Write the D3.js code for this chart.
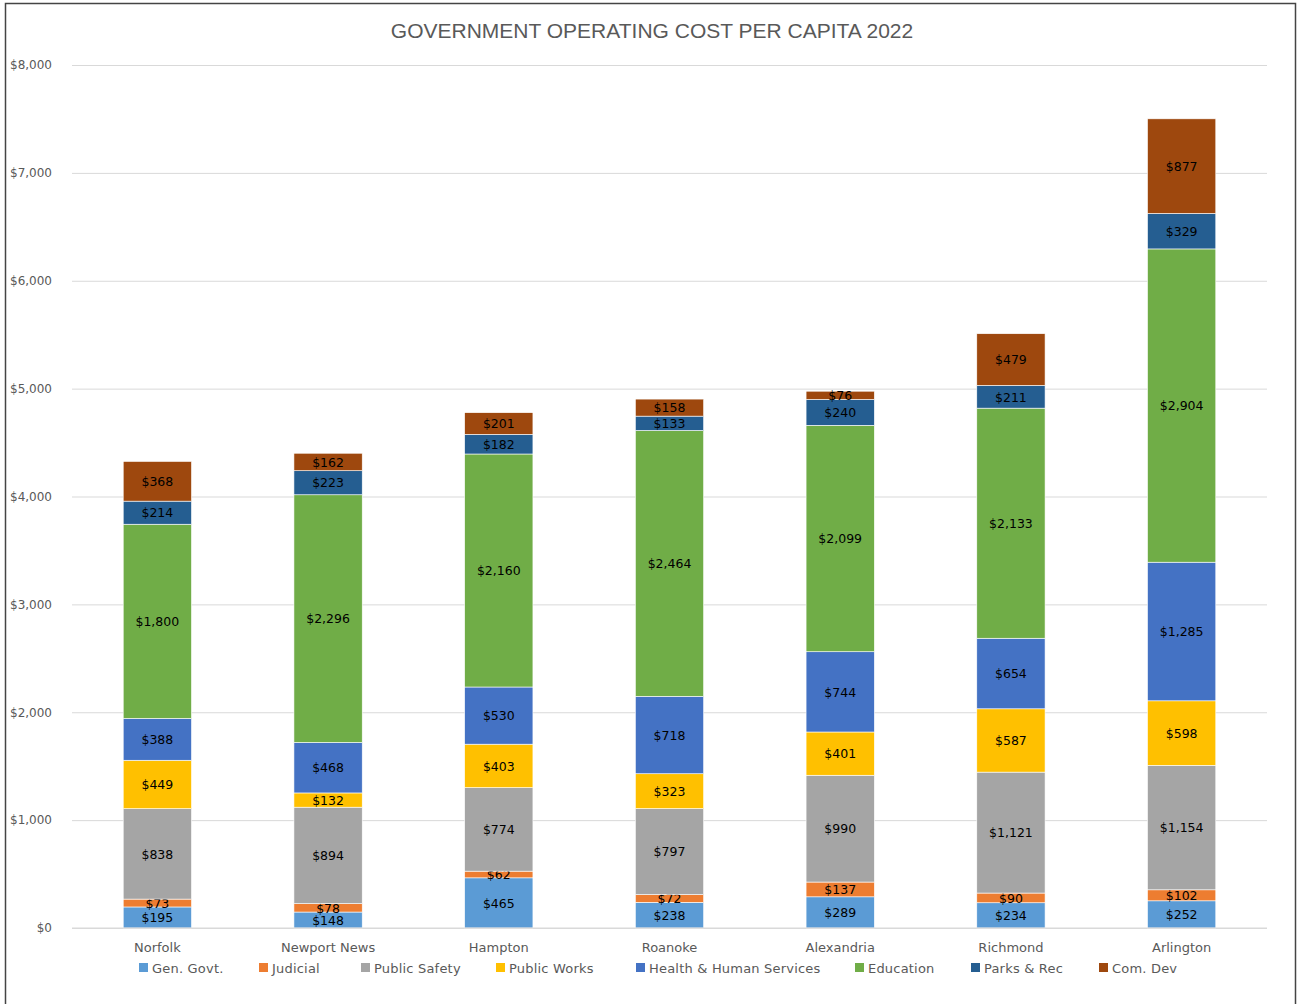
<!DOCTYPE html>
<html>
<head>
<meta charset="utf-8">
<script src="https://cdn.jsdelivr.net/npm/d3@7"></script>
<style>
  body { margin: 0; background: #fff; }
  text { font-family: "DejaVu Sans", sans-serif; }
</style>
</head>
<body>
<svg id="chart" width="1297" height="1004"></svg>
<script>
// данные
const cities = ['Norfolk', 'Newport News', 'Hampton', 'Roanoke', 'Alexandria', 'Richmond', 'Arlington'];
const seriesNames = ['Gen. Govt.', 'Judicial', 'Public Safety', 'Public Works', 'Health & Human Services', 'Education', 'Parks & Rec', 'Com. Dev'];
const genGovt      = [195, 148, 465, 238, 289, 234, 252];
const judicial     = [73, 78, 62, 72, 137, 90, 102];
const publicSafety = [838, 894, 774, 797, 990, 1121, 1154];
const publicWorks  = [449, 132, 403, 323, 401, 587, 598];
const health       = [388, 468, 530, 718, 744, 654, 1285];
const education    = [1800, 2296, 2160, 2464, 2099, 2133, 2904];
const parksRec     = [214, 223, 182, 133, 240, 211, 329];
const comDev       = [368, 162, 201, 158, 76, 479, 877];
const yTicks = [0, 1000, 2000, 3000, 4000, 5000, 6000, 7000, 8000];

const seriesValues = [genGovt, judicial, publicSafety, publicWorks, health, education, parksRec, comDev];
const colors = ['#5B9BD5', '#ED7D31', '#A5A5A5', '#FFC000', '#4472C4', '#70AD47', '#255E91', '#9E480E'];

// таблица для d3.stack
const table = cities.map((c, i) => {
  const row = { city: c };
  seriesNames.forEach((s, j) => { row[s] = seriesValues[j][i]; });
  return row;
});

const svg = d3.select('#chart');

// рамка
svg.append('path')
  .attr('d', 'M5.5,1004 L5.5,3.5 L1295.5,3.5 L1295.5,1004')
  .attr('fill', 'none')
  .attr('stroke', '#444')
  .attr('stroke-width', 1.5);

const margin = { top: 65, left: 72, right: 30, bottom: 76 };
const width = 1297 - margin.left - margin.right;
const height = 1004 - margin.top - margin.bottom;

const g = svg.append('g').attr('transform', `translate(${margin.left},${margin.top})`);

const x = d3.scaleBand()
  .domain(cities)
  .range([0, width])
  .paddingInner(0.6)
  .paddingOuter(0.3);

const y = d3.scaleLinear()
  .domain([0, 8000])
  .range([height, 0]);

const fmt = d3.format('$,.0f');

// сетка и подписи оси Y
const yAxis = g.append('g')
  .call(d3.axisLeft(y).tickValues(yTicks).tickSize(-width).tickFormat(d => fmt(d)).tickPadding(20));
yAxis.select('.domain').remove();
yAxis.selectAll('line').attr('stroke', '#d9d9d9').attr('stroke-width', 1);
yAxis.selectAll('text')
  .attr('fill', '#595959')
  .style('font-size', '12px')
  .style('font-family', '"DejaVu Sans", sans-serif');

// ось X
const xAxis = g.append('g')
  .attr('transform', `translate(0,${height})`)
  .call(d3.axisBottom(x).tickSize(0).tickPadding(15));
xAxis.select('.domain').remove();
xAxis.selectAll('text')
  .attr('fill', '#595959')
  .style('font-size', '13px')
  .style('font-family', '"DejaVu Sans", sans-serif');

// столбцы
const stacked = d3.stack().keys(seriesNames)(table);

const layers = g.selectAll('.layer')
  .data(stacked)
  .enter().append('g')
  .attr('class', 'layer')
  .attr('fill', (d, i) => colors[i]);

layers.selectAll('rect')
  .data(d => d)
  .enter().append('rect')
  .attr('x', d => x(d.data.city))
  .attr('width', x.bandwidth())
  .attr('y', d => y(d[1]))
  .attr('height', d => y(d[0]) - y(d[1]))
  .attr('stroke', '#fff')
  .attr('stroke-width', 0.6);

// подписи значений
layers.selectAll('.value-label')
  .data(d => d)
  .enter().append('text')
  .attr('class', 'value-label')
  .attr('x', d => x(d.data.city) + x.bandwidth() / 2)
  .attr('y', d => (y(d[0]) + y(d[1])) / 2)
  .attr('dy', '0.38em')
  .attr('text-anchor', 'middle')
  .attr('fill', '#000')
  .style('font-size', '12.5px')
  .text(d => fmt(d[1] - d[0]));

// линия нуля
g.append('line')
  .attr('x1', 0).attr('x2', width)
  .attr('y1', y(0)).attr('y2', y(0))
  .attr('stroke', '#d9d9d9');

// заголовок
svg.append('text')
  .attr('x', 652)
  .attr('y', 38)
  .attr('text-anchor', 'middle')
  .attr('fill', '#595959')
  .style('font-family', '"Liberation Sans", Arial, sans-serif')
  .style('font-size', '21px')
  .text('GOVERNMENT OPERATING COST PER CAPITA 2022');

// легенда
const legendX = [139, 259, 361, 496, 636, 855, 971, 1099];
const legend = svg.append('g');
seriesNames.forEach((s, i) => {
  const item = legend.append('g').attr('transform', `translate(${legendX[i]},963)`);
  item.append('rect').attr('width', 9).attr('height', 9).attr('fill', colors[i]);
  item.append('text')
    .attr('x', 13)
    .attr('y', 9.5)
    .attr('fill', '#595959')
    .style('font-size', '13px')
    .style('letter-spacing', '0.2px')
    .text(s);
});
</script>
</body>
</html>
